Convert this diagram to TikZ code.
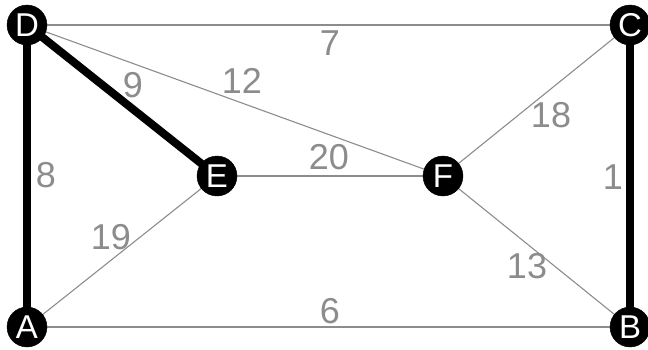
\documentclass[tikz,border=0pt]{standalone}
\usepackage{fontspec}
\setmainfont{Liberation Sans}
\begin{document}
\begin{tikzpicture}[x=1pt,y=-1pt,
  vtx/.style={circle,fill=black,draw=black,minimum size=40pt,inner sep=0pt,text=white,font=\fontsize{33}{33}\selectfont},
  thin edge/.style={draw=gray!90,line width=1.1pt},
  thick edge/.style={draw=black,line width=8pt},
  wlabel/.style={text=gray!90,font=\fontsize{36}{36}\selectfont,inner sep=0pt,anchor=center}]
\useasboundingbox (0,0) rectangle (648,349);
\coordinate (pA) at (27,327);
\coordinate (pB) at (630,327);
\coordinate (pC) at (630,25);
\coordinate (pD) at (27,25);
\coordinate (pE) at (217,176);
\coordinate (pF) at (443,176);
% thin edges
\draw[thin edge] (pD) -- (pC);
\draw[thin edge] (pD) -- (pF);
\draw[thin edge] (pE) -- (pF);
\draw[thin edge] (pF) -- (pC);
\draw[thin edge] (pF) -- (pB);
\draw[thin edge] (pA) -- (pE);
\draw[thin edge] (pA) -- (pB);
% thick edges
\draw[thick edge] (pD) -- (pA);
\draw[thick edge] (pD) -- (pE);
\draw[thick edge] (pC) -- (pB);
% vertices
\node[vtx] (A) at (pA) {A};
\node[vtx] (B) at (pB) {B};
\node[vtx] (C) at (pC) {C};
\node[vtx] (D) at (pD) {D};
\node[vtx] (E) at (pE) {E};
\node[vtx] (F) at (pF) {F};
% labels
\node[wlabel] (l7) at (330,43) {7};
\node[wlabel] (l9) at (133,85) {9};
\node[wlabel] (l12) at (242,81) {12};
\node[wlabel] (l20) at (329,157) {20};
\node[wlabel] (l18) at (551,115) {18};
\node[wlabel] (l8) at (46,175) {8};
\node[wlabel] (l1) at (613,177) {1};
\node[wlabel] (l19) at (111,237) {19};
\node[wlabel] (l13) at (527,266) {13};
\node[wlabel] (l6) at (330,311) {6};
\end{tikzpicture}
\end{document}
